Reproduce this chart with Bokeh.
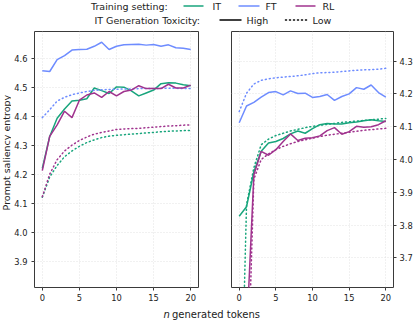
import math
from bokeh.plotting import figure
from bokeh.layouts import column, row
from bokeh.models import Range1d, FixedTicker, PrintfTickFormatter
from bokeh.core.properties import value
from bokeh.embed import file_html
from bokeh.resources import INLINE

# ---------------- data ----------------
tokens = list(range(21))

# left panel
it_high_l = [4.220, 4.330, 4.393, 4.425, 4.452, 4.455, 4.460, 4.497, 4.488, 4.478, 4.501,
             4.500, 4.487, 4.470, 4.480, 4.490, 4.512, 4.515, 4.514, 4.508, 4.505]
ft_high_l = [4.557, 4.554, 4.595, 4.609, 4.628, 4.630, 4.631, 4.641, 4.655, 4.630, 4.641,
             4.646, 4.647, 4.648, 4.645, 4.647, 4.641, 4.646, 4.636, 4.634, 4.630]
rl_high_l = [4.212, 4.330, 4.370, 4.417, 4.395, 4.455, 4.473, 4.480, 4.465, 4.485, 4.470,
             4.485, 4.490, 4.505, 4.495, 4.495, 4.495, 4.510, 4.497, 4.497, 4.507]
it_low_l = [4.120, 4.190, 4.230, 4.260, 4.280, 4.296, 4.309, 4.318, 4.326, 4.331, 4.334,
            4.336, 4.338, 4.340, 4.342, 4.344, 4.346, 4.348, 4.349, 4.350, 4.351]
ft_low_l = [4.395, 4.422, 4.452, 4.465, 4.474, 4.480, 4.485, 4.489, 4.491, 4.492, 4.493,
            4.494, 4.494, 4.495, 4.495, 4.495, 4.496, 4.496, 4.496, 4.495, 4.495]
rl_low_l = [4.122, 4.200, 4.250, 4.280, 4.300, 4.316, 4.328, 4.338, 4.344, 4.349, 4.354,
            4.356, 4.357, 4.358, 4.360, 4.362, 4.364, 4.366, 4.367, 4.369, 4.370]

# right panel
it_high_r = [3.827, 3.856, 3.962, 4.025, 4.050, 4.055, 4.064, 4.078, 4.087, 4.080, 4.094,
             4.106, 4.110, 4.108, 4.108, 4.112, 4.114, 4.118, 4.121, 4.118, 4.116]
ft_high_r = [4.112, 4.163, 4.174, 4.190, 4.204, 4.207, 4.197, 4.209, 4.201, 4.202, 4.189,
             4.192, 4.198, 4.180, 4.192, 4.200, 4.219, 4.214, 4.227, 4.204, 4.190]
rl_high_r = [3.200, 3.460, 3.953, 4.025, 4.013, 4.030, 4.055, 4.078, 4.058, 4.065, 4.066,
             4.072, 4.088, 4.097, 4.077, 4.085, 4.101, 4.098, 4.100, 4.106, 4.118]
it_low_r = [2.980, 3.862, 3.975, 4.045, 4.062, 4.073, 4.080, 4.087, 4.092, 4.097, 4.101,
            4.104, 4.107, 4.110, 4.113, 4.115, 4.117, 4.119, 4.121, 4.123, 4.125]
ft_low_r = [4.146, 4.202, 4.230, 4.241, 4.246, 4.249, 4.251, 4.253, 4.255, 4.258, 4.262,
            4.264, 4.265, 4.266, 4.268, 4.270, 4.272, 4.273, 4.274, 4.275, 4.278]
rl_low_r = [2.900, 3.200, 3.940, 4.000, 4.017, 4.030, 4.040, 4.048, 4.055, 4.060, 4.065,
            4.070, 4.074, 4.077, 4.080, 4.083, 4.086, 4.089, 4.091, 4.093, 4.095]

x_ticks = [0, 5, 10, 15, 20]
y_ticks_l = [3.9, 4.0, 4.1, 4.2, 4.3, 4.4, 4.5, 4.6]
y_ticks_r = [3.7, 3.8, 3.9, 4.0, 4.1, 4.2, 4.3]

settings = ["IT", "FT", "RL"]
toxicity = ["High", "Low"]

# ---------------- styles ----------------
COL = {"IT": "#18a57c", "FT": "#6e8cff", "RL": "#a0338e"}
FONT = "DejaVu Sans"
FS = "9.5px"        # legend / axis titles
FS_TICK = "8.3px"   # tick labels
TXT = "#222222"
FRAME = "#3a3a3a"
LW = 1.5
DOT = "1 3"


def style(p):
    p.outline_line_color = FRAME
    p.outline_line_width = 1
    for ax in p.axis:
        ax.axis_line_color = None
        ax.major_tick_line_color = FRAME
        ax.major_tick_out = 3
        ax.major_tick_in = 0
        ax.minor_tick_line_color = None
        ax.major_label_text_font = FONT
        ax.major_label_text_font_size = FS_TICK
        ax.major_label_text_color = TXT
    for g in p.grid:
        g.grid_line_color = "#dcdcdc"
        g.grid_line_dash = "1 2"
        g.grid_line_width = 0.8
    p.background_fill_color = "white"
    p.border_fill_color = "white"


def draw(p, series):
    for name, hi, lo in series:
        p.line(tokens, hi, line_color=COL[name], line_width=LW)
        p.line(tokens, lo, line_color=COL[name], line_width=LW, line_dash=DOT,
               line_cap="round")


def blank(p):
    p.axis.visible = False
    p.grid.visible = False
    p.outline_line_color = None


# ---------------- legend strip ----------------
leg = figure(width=415, height=27, x_range=Range1d(0, 415), y_range=Range1d(27, 0),
             min_border=0, toolbar_location=None, output_backend="svg")
blank(leg)
leg.text(x=[90.5, 94], y=[5.5, 19.5], text=["Training setting:", "IT Generation Toxicity:"],
         text_font=value(FONT), text_font_size=FS, text_color=TXT,
         text_baseline="middle", text_align="left")
leg.text(x=[212, 265, 322], y=[5.5] * 3, text=settings,
         text_font=value(FONT), text_font_size=FS, text_color=TXT,
         text_baseline="middle", text_align="left")
leg.segment(x0=[183, 238, 295], x1=[203, 259, 315], y0=[5.5] * 3, y1=[5.5] * 3,
            line_color=[COL[s] for s in settings], line_width=LW)
leg.text(x=[246, 312], y=[19.5] * 2, text=toxicity,
         text_font=value(FONT), text_font_size=FS, text_color=TXT,
         text_baseline="middle", text_align="left")
leg.segment(x0=[219], x1=[241], y0=[19.5], y1=[19.5], line_color="black", line_width=LW)
leg.segment(x0=[285], x1=[307], y0=[19.5], y1=[19.5], line_color="black", line_width=LW,
            line_dash=DOT, line_cap="round")

# ---------------- y-axis title strip ----------------
yl = figure(width=11, height=279, x_range=Range1d(0, 11), y_range=Range1d(306, 27),
            min_border=0, toolbar_location=None, output_backend="svg")
blank(yl)
yl.text(x=[5.5], y=[159], text=["Prompt saliency entropy"], angle=math.pi / 2,
        text_font=value(FONT), text_font_size=FS, text_color=TXT,
        text_baseline="middle", text_align="center")

# ---------------- left panel ----------------
pl = figure(width=203, height=279, x_range=Range1d(-1.05, 21.05), y_range=Range1d(3.809, 4.692),
            min_border_left=23, min_border_right=16, min_border_top=4, min_border_bottom=19,
            toolbar_location=None, output_backend="svg")
draw(pl, [("IT", it_high_l, it_low_l), ("FT", ft_high_l, ft_low_l), ("RL", rl_high_l, rl_low_l)])
pl.xaxis.ticker = FixedTicker(ticks=x_ticks)
pl.yaxis.ticker = FixedTicker(ticks=y_ticks_l)
pl.yaxis.formatter = PrintfTickFormatter(format="%.1f")
style(pl)
pl.yaxis.major_label_standoff = 4
pl.xaxis.major_label_standoff = 3

# ---------------- right panel ----------------
pr = figure(width=201, height=279, x_range=Range1d(-1.05, 21.05), y_range=Range1d(3.61, 4.39),
            y_axis_location="right",
            min_border_left=17, min_border_right=21, min_border_top=4, min_border_bottom=19,
            toolbar_location=None, output_backend="svg")
draw(pr, [("IT", it_high_r, it_low_r), ("FT", ft_high_r, ft_low_r), ("RL", rl_high_r, rl_low_r)])
pr.xaxis.ticker = FixedTicker(ticks=x_ticks)
pr.yaxis.ticker = FixedTicker(ticks=y_ticks_r)
pr.yaxis.formatter = PrintfTickFormatter(format="%.1f")
style(pr)
pr.yaxis.major_label_standoff = 3
pr.xaxis.major_label_standoff = 3

# ---------------- shared x label ----------------
xl = figure(width=415, height=14, x_range=Range1d(0, 415), y_range=Range1d(320, 306),
            min_border=0, toolbar_location=None, output_backend="svg")
blank(xl)
xl.text(x=[163], y=[313.5], text=["n"], text_font=value(FONT), text_font_size="10px",
        text_font_style="italic", text_color=TXT, text_baseline="middle", text_align="left")
xl.text(x=[171.5], y=[313.5], text=["generated tokens"], text_font=value(FONT),
        text_font_size="10px", text_color=TXT, text_baseline="middle", text_align="left")

layout = column(leg, row(yl, pl, pr, spacing=0), xl, spacing=0)

open("out.html", "w").write(file_html(layout, INLINE))
